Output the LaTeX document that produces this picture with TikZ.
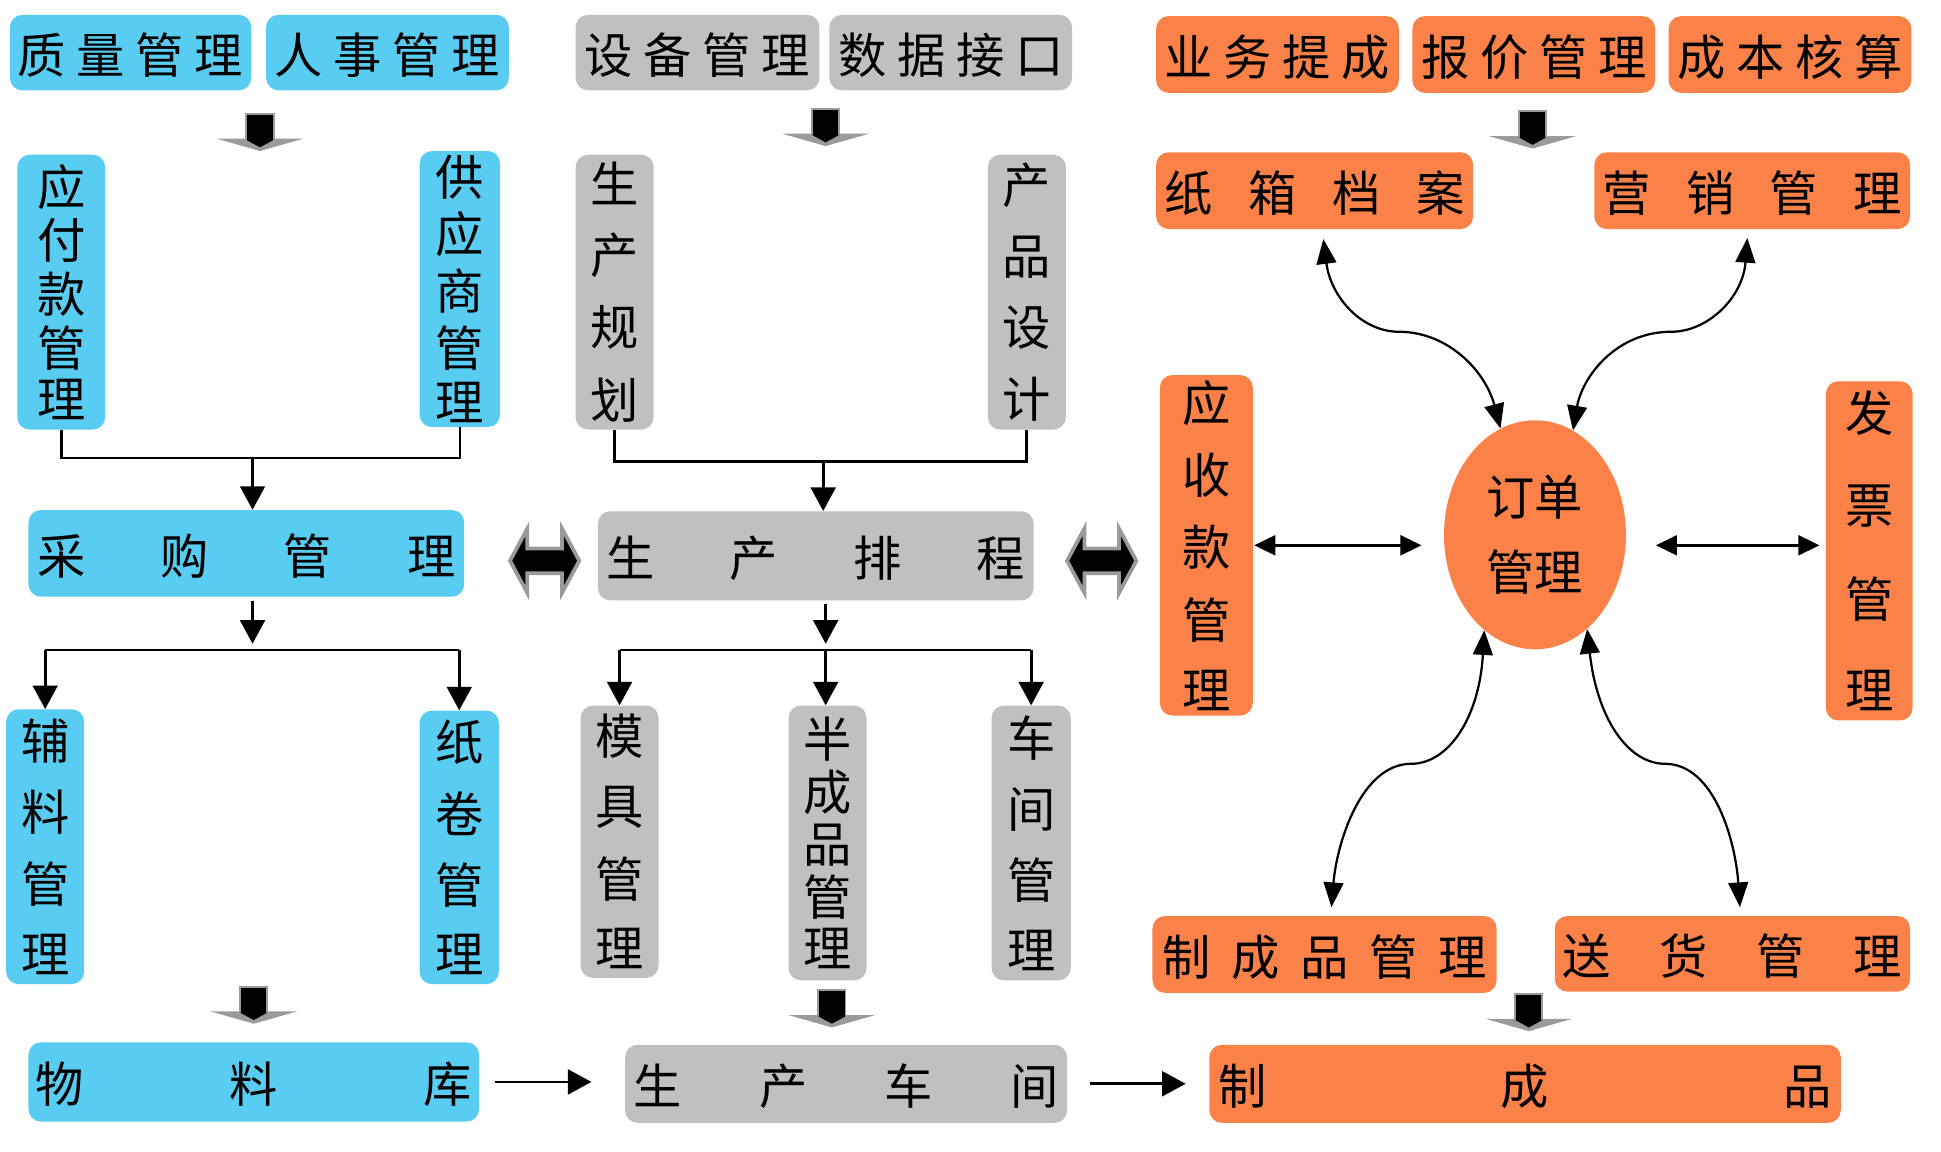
\documentclass[tikz,border=0pt]{standalone}
\usepackage{fontspec}
\setmainfont{Noto Sans CJK SC}
\usetikzlibrary{arrows.meta,shapes.geometric,calc}
\definecolor{cblue}{HTML}{59CDF1}
\definecolor{cgray}{HTML}{C0C0C0}
\definecolor{corange}{HTML}{FA8249}
\definecolor{cgrayd}{HTML}{9A9A9A}
\newcommand\HS[2]{\raisebox{-2pt}[\height][\depth]{\hbox to #1pt{#2}}}
\newcommand\VS[2]{\vbox to #1pt{\offinterlineskip #2}}
\newcommand\cc[1]{\hbox to 39pt{\hss#1\hss}}
\newcommand\fsz{\fontsize{39pt}{61pt}\selectfont}
\tikzset{
  box/.style={rounded corners=10pt, inner sep=0pt, font=\fsz},
  bl/.style={box, fill=cblue},
  gr/.style={box, fill=cgray},
  og/.style={box, fill=corange},
  ln/.style={line width=2.2pt},
  arr/.style={line width=2.2pt, -{Triangle[length=19pt,width=20pt]}},
  darr/.style={line width=2.2pt, {Triangle[length=17pt,width=16pt]}-{Triangle[length=17pt,width=16pt]}},
  carr/.style={line width=1.8pt, {Triangle[length=20pt,width=16pt]}-{Triangle[length=20pt,width=16pt]}},
  downblk/.pic={
    \fill[cgrayd] (-35,20) -- (35,20) -- (0,30) -- cycle;
    \filldraw[fill=black, draw=cgrayd, line width=1.5pt] (-11,0) rectangle (11,22);
    \fill[black] (-11,21) -- (11,21) -- (0,27) -- cycle;
  },
  dblk/.pic={
    \filldraw[fill=black, draw=cgrayd, line width=3pt, line join=miter] (-28,0) -- (-14,-26) -- (-14,-10) -- (14,-10) -- (14,-26) -- (28,0) -- (14,26) -- (14,10) -- (-14,10) -- (-14,26) -- cycle;
  }
}
\begin{document}
\begin{tikzpicture}[x=1pt, y=-1pt]
\useasboundingbox (0,0) rectangle (1568,930);

% top row
\node[bl, minimum width=195pt, minimum height=61pt] (zl) at (105.5,42.5) {\HS{182}{质\hfill 量\hfill 管\hfill 理}};
\node[bl, minimum width=196pt, minimum height=61pt] (rs) at (313,42.5) {\HS{182}{人\hfill 事\hfill 管\hfill 理}};
\node[gr, minimum width=197pt, minimum height=61pt] (sb) at (563.5,42.5) {\HS{182}{设\hfill 备\hfill 管\hfill 理}};
\node[gr, minimum width=196pt, minimum height=61pt] (sj) at (768,42.5) {\HS{182}{数\hfill 据\hfill 接\hfill 口}};
\node[og, minimum width=196pt, minimum height=62pt] (yw) at (1032,44) {\HS{182}{业\hfill 务\hfill 提\hfill 成}};
\node[og, minimum width=196pt, minimum height=62pt] (bj) at (1239,44) {\HS{182}{报\hfill 价\hfill 管\hfill 理}};
\node[og, minimum width=196pt, minimum height=62pt] (cb) at (1446,44) {\HS{182}{成\hfill 本\hfill 核\hfill 算}};

\pic at (210,92) {downblk};
\pic at (667,88) {downblk};
\pic at (1238,90) {downblk};

% second row
\node[bl, minimum width=71pt, minimum height=222pt] (yfk) at (49.5,236) {\VS{205}{\cc{应}\vfill\cc{付}\vfill\cc{款}\vfill\cc{管}\vfill\cc{理}}};
\node[bl, minimum width=65pt, minimum height=223pt] (gys) at (371.5,233.5) {\VS{214}{\cc{供}\vfill\cc{应}\vfill\cc{商}\vfill\cc{管}\vfill\cc{理}}};
\node[gr, minimum width=63pt, minimum height=222pt] (scgh) at (496.5,236) {\VS{207}{\cc{生}\vfill\cc{产}\vfill\cc{规}\vfill\cc{划}}};
\node[gr, minimum width=63pt, minimum height=222pt] (cpsj) at (829.5,236) {\VS{205}{\cc{产}\vfill\cc{品}\vfill\cc{设}\vfill\cc{计}}};
\node[og, minimum width=256pt, minimum height=62pt] (zx) at (1062,154) {\HS{242}{纸\hfill 箱\hfill 档\hfill 案}};
\node[og, minimum width=255pt, minimum height=62pt] (yx) at (1415.5,154) {\HS{242}{营\hfill 销\hfill 管\hfill 理}};

% third row
\node[bl, minimum width=352pt, minimum height=70pt] (cg) at (199,447) {\HS{338}{采\hfill 购\hfill 管\hfill 理}};
\node[gr, minimum width=352pt, minimum height=72pt] (scpc) at (659,449) {\HS{338}{生\hfill 产\hfill 排\hfill 程}};
\pic at (440,453) {dblk};
\pic at (890,453) {dblk};
\node[og, minimum width=75pt, minimum height=275pt] (ysk) at (974.5,440.5) {\VS{265}{\cc{应}\vfill\cc{收}\vfill\cc{款}\vfill\cc{管}\vfill\cc{理}}};
\node[ellipse, fill=corange, inner sep=0pt, minimum width=147pt, minimum height=185pt, font=\fsz, align=center] (dd) at (1240,432) {订单\\管理};
\node[og, minimum width=70pt, minimum height=274pt] (fp) at (1510,445) {\VS{257}{\cc{发}\vfill\cc{票}\vfill\cc{管}\vfill\cc{理}}};

% fourth row
\node[bl, minimum width=63pt, minimum height=222pt] (fl) at (36.5,684) {\VS{205}{\cc{辅}\vfill\cc{料}\vfill\cc{管}\vfill\cc{理}}};
\node[bl, minimum width=64pt, minimum height=221pt] (zj) at (371,684.5) {\VS{204}{\cc{纸}\vfill\cc{卷}\vfill\cc{管}\vfill\cc{理}}};
\node[gr, minimum width=63pt, minimum height=220pt] (mj) at (500.5,680) {\VS{204}{\cc{模}\vfill\cc{具}\vfill\cc{管}\vfill\cc{理}}};
\node[gr, minimum width=63pt, minimum height=222pt] (bcp) at (668.5,681) {\VS{202}{\cc{半}\vfill\cc{成}\vfill\cc{品}\vfill\cc{管}\vfill\cc{理}}};
\node[gr, minimum width=64pt, minimum height=222pt] (cj) at (833,681) {\VS{204}{\cc{车}\vfill\cc{间}\vfill\cc{管}\vfill\cc{理}}};
\node[og, minimum width=278pt, minimum height=62pt] (zcpgl) at (1070,771) {\HS{262}{制\hfill 成\hfill 品\hfill 管\hfill 理}};
\node[og, minimum width=287pt, minimum height=61pt] (sh) at (1399.5,770.5) {\HS{274}{送\hfill 货\hfill 管\hfill 理}};

\pic at (205,797) {downblk};
\pic at (672,800) {downblk};
\pic at (1235,803) {downblk};

% bottom row
\node[bl, minimum width=364pt, minimum height=64pt] (wl) at (205,874) {\HS{352}{物\hfill 料\hfill 库}};
\node[gr, minimum width=357pt, minimum height=63pt] (scj) at (683.5,875.5) {\HS{343}{生\hfill 产\hfill 车\hfill 间}};
\node[og, minimum width=510pt, minimum height=63pt] (zcp) at (1232,875.5) {\HS{496}{制\hfill 成\hfill 品}};

% tree connectors
\coordinate (j1) at (204,370);
\draw[ln] (yfk.south) |- (j1) -| (gys.south);
\draw[arr] (j1) -- (j1 |- cg.north);
\coordinate (j2) at (665,373);
\draw[ln] (scgh.south) |- (j2) -| (cpsj.south);
\draw[arr] (j2) -- (j2 |- scpc.north);

\coordinate (j3) at (204,525);
\draw[arr, shorten <=3pt] (cg.south -| j3) -- ([yshift=5pt]j3);
\draw[ln] (fl.north |- j3) -- (zj.north |- j3);
\draw[arr] (fl.north |- j3) -- (fl.north);
\draw[arr] (zj.north |- j3) -- (zj.north);
\coordinate (j4) at (667,525);
\draw[arr, shorten <=3pt] (scpc.south -| j4) -- ([yshift=5pt]j4);
\draw[ln] (mj.north |- j4) -- (cj.north |- j4);
\draw[arr] (mj.north |- j4) -- (mj.north);
\draw[arr] (j4) -- (j4 |- bcp.north);
\draw[arr] (cj.north |- j4) -- (cj.north);

% bottom arrows
\draw[arr, shorten <=13pt, shorten >=27pt] (wl.east) -- (wl.east -| scj.west);
\draw[arr, shorten <=18pt, shorten >=19pt] (scj.east) -- (scj.east -| zcp.west);

% order arrows
\draw[darr, shorten <=1pt, shorten >=18pt] (ysk.east) -- (ysk.east -| dd.west);
\draw[darr, shorten <=24pt, shorten >=5pt] (dd.east |- ysk.east) -- (ysk.east -| fp.west);

\draw[carr, shorten <=8pt] ([xshift=6pt]zx.south) .. controls (1075,240) and (1100,268) .. (1130,268) .. controls (1170,268) and (1200,300) .. (dd.108);
\draw[carr, shorten <=7pt] ([xshift=-3.5pt]yx.south) .. controls (1408,240) and (1380,268) .. (1350,268) .. controls (1305,268) and (1278,305) .. (dd.70);
\draw[carr, shorten >=7pt] (dd.242) .. controls (1195,580) and (1170,617) .. (1140,617) .. controls (1100,617) and (1080,680) .. ([xshift=5pt]zcpgl.north);
\draw[carr, shorten >=7pt] (dd.299) .. controls (1290,580) and (1315,617) .. (1345,617) .. controls (1385,617) and (1402,680) .. ([xshift=6.5pt]sh.north);
\end{tikzpicture}
\end{document}
